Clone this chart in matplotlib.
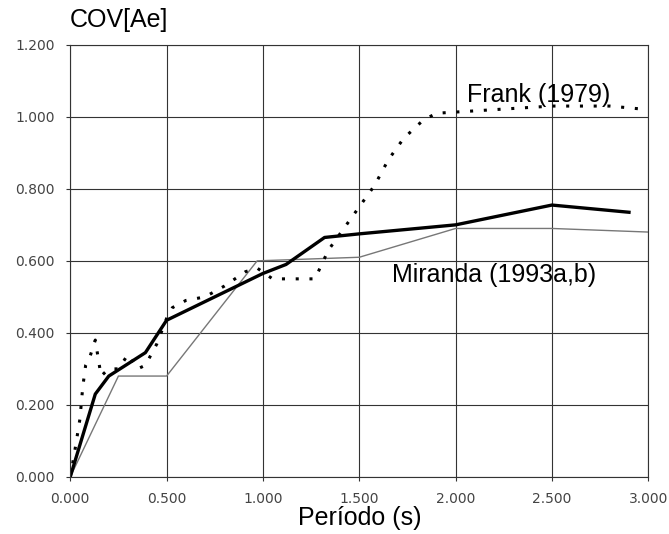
import matplotlib.pyplot as plt

# Periodo (s) y COV[Ae] de cada curva
frank_t = [0.0, 0.02, 0.05, 0.065, 0.08, 0.10, 0.13, 0.16, 0.20, 0.25, 0.30, 0.35,
           0.39, 0.45, 0.50, 0.53, 0.60, 0.70, 0.80, 0.91, 0.97, 1.05, 1.27, 1.34,
           1.42, 1.50, 1.58, 1.65, 1.73, 1.83, 1.90, 2.20, 2.50, 2.80, 3.00]
frank_cov = [0.0, 0.06, 0.16, 0.25, 0.31, 0.33, 0.38, 0.28, 0.30, 0.30, 0.34, 0.30,
             0.31, 0.37, 0.44, 0.47, 0.49, 0.50, 0.53, 0.57, 0.58, 0.55, 0.55, 0.63,
             0.69, 0.75, 0.81, 0.88, 0.94, 0.99, 1.01, 1.02, 1.03, 1.03, 1.02]

thick_t = [0.0, 0.13, 0.20, 0.39, 0.50, 1.00, 1.12, 1.32, 1.50, 2.00, 2.50, 2.90]
thick_cov = [0.0, 0.23, 0.28, 0.345, 0.435, 0.565, 0.59, 0.665, 0.675, 0.70, 0.755, 0.735]

miranda_t = [0.0, 0.25, 0.50, 0.97, 1.50, 2.00, 2.50, 3.00]
miranda_cov = [0.0, 0.28, 0.28, 0.60, 0.61, 0.69, 0.69, 0.68]

x_ticks = [0.0, 0.5, 1.0, 1.5, 2.0, 2.5, 3.0]
y_ticks = [0.0, 0.2, 0.4, 0.6, 0.8, 1.0, 1.2]

sans = ["Liberation Sans", "DejaVu Sans"]

fig = plt.figure(figsize=(6.69, 5.34), dpi=100)
ax = fig.add_axes([0.105, 0.107, 0.864, 0.809])

ax.plot(miranda_t, miranda_cov, color="#777777", lw=1.0)
ax.plot(frank_t, frank_cov, color="black", lw=2.2, linestyle=(0, (1, 3.5)))
ax.plot(thick_t, thick_cov, color="black", lw=2.4)

ax.set_xlim(0, 3.0)
ax.set_ylim(0, 1.2)
ax.set_xticks(x_ticks)
ax.set_yticks(y_ticks)
ax.set_xticklabels([f"{v:.3f}" for v in x_ticks])
ax.set_yticklabels([f"{v:.3f}" for v in y_ticks])
ax.grid(True, color="#333333", lw=0.8)
for s in ax.spines.values():
    s.set_color("#333333")
    s.set_linewidth(0.8)
ax.tick_params(length=3, width=0.8, color="#333333", labelsize=10, colors="#444444", pad=8)
for lab in ax.get_xticklabels() + ax.get_yticklabels():
    lab.set_family(["Liberation Sans Narrow", "DejaVu Sans"])

ax.set_xlabel("Período (s)", fontsize=18, family=sans, labelpad=0)
fig.text(0.105, 0.962, "COV[Ae]", fontsize=18, family=sans, ha="left", va="center")

ax.text(2.06, 1.06, "Frank (1979)", fontsize=18, family=sans, va="center")
ax.text(1.67, 0.56, "Miranda (1993a,b)", fontsize=18, family=sans, va="center")

fig.savefig("out.png", dpi=100)
